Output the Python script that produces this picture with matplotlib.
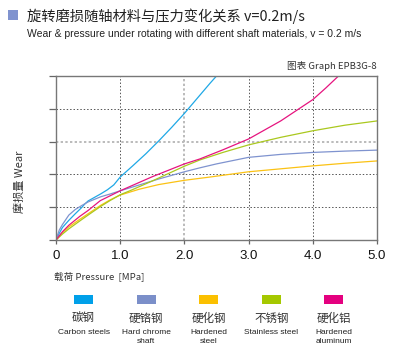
import matplotlib
matplotlib.use("Agg")
import matplotlib.pyplot as plt
from matplotlib.patches import Rectangle

# ---------------- data ----------------
carbon_x = [0, 0.05, 0.1, 0.2, 0.3, 0.4, 0.45, 0.5, 0.6, 0.7, 0.8, 0.9, 1.0, 1.2, 1.4, 1.6, 1.8, 2.0, 2.2, 2.4, 2.5, 2.55]
carbon_y = [0, 0.2, 0.38, 0.6, 0.8, 0.99, 1.1, 1.19, 1.3, 1.41, 1.53, 1.68, 1.92, 2.27, 2.63, 3.02, 3.43, 3.86, 4.32, 4.78, 5.0, 5.1]

chrome_x = [0, 0.05, 0.1, 0.2, 0.3, 0.4, 0.5, 0.7, 0.84, 1.0, 1.3, 1.6, 2.0, 2.24, 2.5, 3.0, 3.5, 4.0, 4.5, 5.0]
chrome_y = [0, 0.3, 0.47, 0.76, 0.93, 1.05, 1.16, 1.32, 1.40, 1.5, 1.68, 1.86, 2.08, 2.2, 2.32, 2.52, 2.61, 2.67, 2.71, 2.74]

hard_x = [0, 0.1, 0.2, 0.37, 0.5, 0.69, 0.84, 1.0, 1.3, 1.6, 2.0, 2.4, 3.0, 3.5, 4.0, 4.5, 5.0]
hard_y = [0, 0.22, 0.4, 0.63, 0.8, 1.05, 1.22, 1.37, 1.55, 1.69, 1.82, 1.92, 2.08, 2.17, 2.26, 2.34, 2.41]

stain_x = [0, 0.1, 0.2, 0.37, 0.5, 0.7, 0.84, 1.0, 1.15, 1.5, 2.0, 2.24, 2.6, 3.0, 3.5, 4.0, 4.5, 5.0]
stain_y = [0, 0.18, 0.34, 0.58, 0.76, 1.03, 1.2, 1.38, 1.5, 1.8, 2.25, 2.44, 2.67, 2.9, 3.13, 3.33, 3.5, 3.63]

alu_x = [0, 0.1, 0.2, 0.37, 0.5, 0.69, 1.0, 1.5, 2.0, 2.24, 2.6, 3.0, 3.5, 4.0, 4.2, 4.4, 4.45]
alu_y = [0, 0.25, 0.45, 0.72, 0.9, 1.2, 1.5, 1.93, 2.32, 2.47, 2.75, 3.08, 3.63, 4.28, 4.63, 5.0, 5.1]

series_x = [carbon_x, chrome_x, hard_x, stain_x, alu_x]
series_y = [carbon_y, chrome_y, hard_y, stain_y, alu_y]
colors = ["#1fa8e6", "#7f93cf", "#fbc214", "#aac81e", "#e6147f"]
legend_colors = ["#00a0e9", "#7b8fc9", "#fbc000", "#a5c800", "#e4007f"]
legend_cn = ["碳钢", "硬铬钢", "硬化钢", "不锈钢", "硬化铝"]
legend_en = ["Carbon steels", "Hard chrome\nshaft", "Hardened\nsteel", "Stainless steel", "Hardened\naluminum"]

xticks = [0, 1, 2, 3, 4, 5]
xtick_labels = ["0", "1.0", "2.0", "3.0", "4.0", "5.0"]
yticks = [0, 1, 2, 3, 4, 5]

title_cn = "旋转磨损随轴材料与压力变化关系 v=0.2m/s"
title_en = "Wear & pressure under rotating with different shaft materials, v = 0.2 m/s"
graph_id = "图表 Graph EPB3G-8"
ylabel = "摩损量 Wear"
xlabel = "载荷 Pressure  [MPa]"

CJK = ["Noto Sans CJK SC", "DejaVu Sans"]
LAT = ["Liberation Sans", "DejaVu Sans"]

W, H = 400, 360
fig = plt.figure(figsize=(W / 100, H / 100), dpi=100)


def fx(px):
    return px / W


def fy(py):
    return 1 - py / H


ax = fig.add_axes([fx(56), fy(240), (377 - 56) / W, (240 - 76) / H])

for xs, ys, c in zip(series_x, series_y, colors):
    ax.plot(xs, ys, color=c, lw=0.9, solid_joinstyle="round")

ax.set_xlim(0, 5)
ax.set_ylim(0, 5)
ax.set_xticks(xticks)
ax.set_xticklabels(xtick_labels, family=LAT, fontsize=9.5, color="#111")
ax.set_yticks(yticks)
ax.set_yticklabels([])
ax.tick_params(axis="both", direction="out", color="#666", width=0.9)
ax.tick_params(axis="y", length=5)
ax.tick_params(axis="x", length=3, pad=4)

for s in ax.spines.values():
    s.set_color("#777")
    s.set_linewidth(1.0)

for xv in [1, 2, 3, 4]:
    if xv == 2:
        ax.axvline(xv, color="#bbbbbb", lw=1.4, ls=(0, (1.2, 1.2)), zorder=0)
    else:
        ax.axvline(xv, color="#555555", lw=0.7, ls=(0, (1.5, 2.0)), zorder=0)
for yv in [1, 2, 3, 4]:
    if yv == 3:
        ax.axhline(yv, color="#bbbbbb", lw=1.4, ls=(0, (1.2, 1.2)), zorder=0)
    else:
        ax.axhline(yv, color="#555555", lw=0.7, ls=(0, (1.5, 2.0)), zorder=0)

# title block
fig.add_artist(Rectangle((fx(8), fy(20)), 10 / W, 10 / H, transform=fig.transFigure,
                         facecolor="#8093cf", edgecolor="none"))
fig.text(fx(27), fy(16), title_cn, family=CJK, fontsize=10.3, color="#222", va="center", ha="left")
fig.text(fx(27), fy(34), title_en, family=LAT, fontsize=7.5, color="#222", va="center", ha="left")
fig.text(fx(377), fy(66), graph_id, family=CJK, fontsize=6.9, color="#333", va="center", ha="right")

fig.text(fx(20), fy(182), ylabel, family=CJK, fontsize=8, color="#333", va="center", ha="center",
         rotation=90)
fig.text(fx(54), fy(276), xlabel, family=CJK, fontsize=6.9, color="#333", va="center", ha="left")

# legend
centers = [83.5, 146, 208.5, 271.5, 333.5]
for cx, c, cn, en in zip(centers, legend_colors, legend_cn, legend_en):
    fig.add_artist(Rectangle((fx(cx - 9.5), fy(304)), 19 / W, 9 / H, transform=fig.transFigure,
                             facecolor=c, edgecolor="none"))
    fig.text(fx(cx), fy(318), cn, family=CJK, fontsize=8.3, color="#333", va="center", ha="center")
    fig.text(fx(cx), fy(329), en, family=LAT, fontsize=6.0, color="#222", va="top", ha="center",
             linespacing=1.35)

fig.savefig("out.png", dpi=100)
